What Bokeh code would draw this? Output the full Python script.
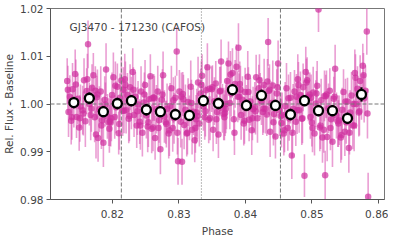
from bokeh.plotting import figure
from bokeh.models import ColumnDataSource, Span, Label, FixedTicker, NumeralTickFormatter, Range1d
from bokeh.embed import file_html
from bokeh.resources import INLINE

title_text = "GJ3470 - 171230 (CAFOS)"
x_label = "Phase"
y_label = "Rel. Flux - Baseline"
x_ticks = [0.82, 0.83, 0.84, 0.85, 0.86]
y_ticks = [0.98, 0.99, 1.00, 1.01, 1.02]

dashed_lines = [0.82135, 0.84526]
dotted_lines = [0.83338]
baseline = 1.0

raw_phase = [
    0.81321, 0.81341, 0.81361, 0.81381, 0.81401, 0.81421, 0.81441, 0.81461, 0.81481, 0.81501, 0.81521,
    0.81554, 0.81574, 0.81594, 0.81614, 0.81634, 0.81654, 0.81674, 0.81694, 0.81714, 0.81734, 0.81754,
    0.81765, 0.81785, 0.81805, 0.81825, 0.81845, 0.81865, 0.81885, 0.81905, 0.81925, 0.81945, 0.81965,
    0.81975, 0.81995, 0.82015, 0.82035, 0.82055, 0.82075, 0.82095, 0.82115, 0.82135, 0.82155, 0.82175,
    0.82186, 0.82206, 0.82226, 0.82246, 0.82266, 0.82286, 0.82306, 0.82326, 0.82346, 0.82366, 0.82386,
    0.82411, 0.82431, 0.82451, 0.82471, 0.82491, 0.82511, 0.82531, 0.82551, 0.82571, 0.82591, 0.82611,
    0.82622, 0.82642, 0.82662, 0.82682, 0.82702, 0.82722, 0.82742, 0.82762, 0.82782, 0.82802, 0.82822,
    0.82847, 0.82867, 0.82887, 0.82907, 0.82927, 0.82947, 0.82967, 0.82987, 0.83007, 0.83027, 0.83047,
    0.83058, 0.83078, 0.83098, 0.83118, 0.83138, 0.83158, 0.83178, 0.83198, 0.83218, 0.83238, 0.83258,
    0.83268, 0.83288, 0.83308, 0.83328, 0.83348, 0.83368, 0.83388, 0.83408, 0.83428, 0.83448, 0.83468,
    0.83494, 0.83514, 0.83534, 0.83554, 0.83574, 0.83594, 0.83614, 0.83634, 0.83654, 0.83674, 0.83694,
    0.83705, 0.83725, 0.83745, 0.83765, 0.83785, 0.83805, 0.83825, 0.83845, 0.83865, 0.83885, 0.83905,
    0.83915, 0.83935, 0.83955, 0.83975, 0.83995, 0.84015, 0.84035, 0.84055, 0.84075, 0.84095, 0.84115,
    0.84141, 0.84161, 0.84181, 0.84201, 0.84221, 0.84241, 0.84261, 0.84281, 0.84301, 0.84321, 0.84341,
    0.84351, 0.84371, 0.84391, 0.84411, 0.84431, 0.84451, 0.84471, 0.84491, 0.84511, 0.84531, 0.84551,
    0.84577, 0.84597, 0.84617, 0.84637, 0.84657, 0.84677, 0.84697, 0.84717, 0.84737, 0.84757, 0.84777,
    0.84787, 0.84807, 0.84827, 0.84847, 0.84867, 0.84887, 0.84907, 0.84927, 0.84947, 0.84967, 0.84987,
    0.84998, 0.85018, 0.85038, 0.85058, 0.85078, 0.85098, 0.85118, 0.85138, 0.85158, 0.85178, 0.85198,
    0.85208, 0.85228, 0.85248, 0.85268, 0.85288, 0.85308, 0.85328, 0.85348, 0.85368, 0.85388, 0.85408,
    0.85434, 0.85454, 0.85474, 0.85494, 0.85514, 0.85534, 0.85554, 0.85574, 0.85594, 0.85614, 0.85634,
    0.85644, 0.85664, 0.85684, 0.85704, 0.85724, 0.85744, 0.85764, 0.85784, 0.85804, 0.85824, 0.85844,
    0.81331, 0.81391, 0.81451, 0.81511, 0.81564, 0.81624, 0.81684, 0.81744,
    0.81775, 0.81835, 0.81895, 0.81955, 0.81985, 0.82045, 0.82105, 0.82165,
    0.82196, 0.82256, 0.82316, 0.82376, 0.82421, 0.82481, 0.82541, 0.82601,
    0.82632, 0.82692, 0.82752, 0.82812, 0.82857, 0.82917, 0.82977, 0.83037,
    0.83068, 0.83128, 0.83188, 0.83248, 0.83278, 0.83338, 0.83398, 0.83458,
    0.83504, 0.83564, 0.83624, 0.83684, 0.83715, 0.83775, 0.83835, 0.83895,
    0.83925, 0.83985, 0.84045, 0.84105, 0.84151, 0.84211, 0.84271, 0.84331,
    0.84361, 0.84421, 0.84481, 0.84541, 0.84587, 0.84647, 0.84707, 0.84767,
    0.84797, 0.84857, 0.84917, 0.84977, 0.85008, 0.85068, 0.85128, 0.85188,
    0.85218, 0.85278, 0.85338, 0.85398, 0.85444, 0.85504, 0.85564, 0.85624,
    0.85654, 0.85714, 0.85774, 0.85834,
]

raw_flux = [
    1.0048, 0.9983, 1.0015, 0.9965, 1.0031, 0.9998, 1.0063, 0.9973, 1.0011, 0.9951, 0.9995,
    0.9987, 1.0050, 0.9964, 1.0027, 1.0125, 1.0000, 0.9977, 1.0034, 1.0060, 0.9972, 0.9936,
    1.0014, 0.9929, 0.9989, 1.0026, 0.9966, 0.9919, 1.0009, 1.0072, 0.9974, 0.9962, 0.9964,
    0.9961, 1.0019, 1.0056, 0.9973, 0.9993, 1.0036, 0.9939, 1.0013, 1.0049, 0.9986, 0.9986,
    1.0052, 0.9987, 1.0019, 0.9969, 1.0035, 1.0002, 1.0067, 0.9977, 1.0015, 0.9955, 0.9999,
    0.9963, 1.0026, 0.9940, 1.0003, 1.0040, 0.9976, 0.9953, 1.0010, 1.0058, 0.9948, 0.9951,
    1.0014, 0.9929, 0.9989, 1.0026, 0.9966, 0.9905, 1.0009, 1.0060, 0.9974, 0.9962, 0.9990,
    0.9938, 0.9996, 1.0033, 0.9950, 0.9970, 1.0013, 1.0110, 0.9880, 1.0026, 0.9963, 0.9879,
    1.0021, 0.9956, 0.9988, 0.9938, 1.0004, 0.9971, 1.0036, 0.9946, 0.9984, 0.9924, 0.9968,
    0.9982, 1.0045, 0.9959, 1.0022, 1.0059, 0.9995, 0.9972, 1.0029, 1.0077, 0.9967, 0.9970,
    1.0031, 0.9946, 1.0006, 1.0043, 0.9983, 0.9936, 1.0026, 1.0089, 0.9991, 0.9979, 0.9981,
    0.9990, 1.0048, 1.0085, 1.0002, 1.0022, 1.0065, 0.9968, 1.0042, 1.0078, 1.0015, 1.0015,
    1.0042, 0.9977, 1.0009, 0.9959, 1.0025, 0.9992, 1.0057, 0.9967, 1.0005, 0.9945, 0.9989,
    0.9993, 1.0056, 0.9970, 1.0033, 1.0019, 1.0006, 0.9983, 1.0040, 0.9990, 0.9978, 1.0130,
    1.0027, 0.9942, 1.0002, 1.0039, 0.9979, 0.9932, 1.0022, 1.0085, 0.9987, 0.9975, 0.9977,
    0.9938, 0.9996, 1.0033, 0.9950, 0.9970, 1.0013, 0.9892, 0.9990, 1.0026, 0.9963, 0.9987,
    1.0052, 0.9987, 1.0019, 0.9969, 1.0035, 0.9850, 1.0067, 1.0050, 1.0015, 1.0020, 1.0013,
    0.9961, 1.0024, 0.9938, 1.0001, 1.0038, 1.0198, 0.9951, 1.0008, 0.9930, 0.9946, 0.9851,
    1.0016, 0.9931, 0.9991, 1.0028, 0.9968, 0.9921, 1.0011, 1.0074, 0.9976, 0.9964, 0.9966,
    0.9930, 0.9988, 1.0025, 0.9942, 0.9962, 1.0005, 0.9908, 0.9982, 1.0018, 0.9955, 0.9955,
    1.0065, 1.0000, 1.0032, 0.9982, 1.0048, 1.0015, 1.0080, 1.0012, 1.0028, 1.0152, 0.9806,
    1.0030, 0.9972, 1.0041, 0.9970, 0.9980, 1.0052, 0.9990, 1.0028,
    1.0020, 0.9955, 0.9999, 0.9948, 0.9970, 1.0038, 0.9958, 1.0030,
    1.0040, 0.9975, 1.0030, 0.9985, 0.9955, 1.0020, 0.9962, 1.0012,
    1.0012, 0.9950, 1.0020, 0.9958, 0.9945, 1.0008, 0.9940, 1.0015,
    1.0010, 0.9940, 1.0002, 0.9950, 0.9975, 1.0040, 0.9985, 1.0032,
    1.0035, 0.9968, 1.0028, 0.9972, 1.0000, 1.0062, 0.9940, 1.0118,
    1.0030, 0.9965, 1.0025, 0.9970, 0.9985, 1.0050, 0.9990, 1.0047,
    1.0030, 0.9962, 1.0035, 0.9960, 0.9945, 1.0012, 0.9940, 1.0015,
    1.0040, 0.9970, 1.0045, 0.9973, 0.9950, 1.0022, 0.9955, 1.0017,
    1.0020, 0.9950, 1.0015, 0.9959, 0.9935, 1.0005, 0.9940, 1.0000,
    1.0055, 0.9985, 1.0060, 0.9980,
]

raw_err = [
    0.0048, 0.0052, 0.0045, 0.0050, 0.0055, 0.0047, 0.0051, 0.0044, 0.0053, 0.0049, 0.0046,
    0.0051, 0.0046, 0.0054, 0.0048, 0.0050, 0.0045, 0.0053, 0.0049, 0.0047, 0.0052, 0.0050,
    0.0045, 0.0050, 0.0048, 0.0053, 0.0046, 0.0051, 0.0049, 0.0055, 0.0047, 0.0050, 0.0052,
    0.0050, 0.0047, 0.0052, 0.0046, 0.0054, 0.0049, 0.0045, 0.0051, 0.0048, 0.0053, 0.0047,
    0.0053, 0.0049, 0.0046, 0.0051, 0.0048, 0.0055, 0.0050, 0.0046, 0.0052, 0.0047, 0.0049,
    0.0047, 0.0053, 0.0050, 0.0045, 0.0052, 0.0048, 0.0054, 0.0049, 0.0046, 0.0051, 0.0050,
    0.0049, 0.0046, 0.0051, 0.0054, 0.0047, 0.0052, 0.0048, 0.0050, 0.0055, 0.0045, 0.0053,
    0.0052, 0.0048, 0.0047, 0.0050, 0.0053, 0.0046, 0.0051, 0.0049, 0.0045, 0.0054, 0.0048,
    0.0046, 0.0051, 0.0053, 0.0048, 0.0050, 0.0047, 0.0055, 0.0052, 0.0049, 0.0046, 0.0051,
    0.0050, 0.0054, 0.0048, 0.0052, 0.0045, 0.0051, 0.0047, 0.0053, 0.0050, 0.0049, 0.0046,
    0.0048, 0.0045, 0.0050, 0.0047, 0.0053, 0.0049, 0.0052, 0.0046, 0.0051, 0.0055, 0.0048,
    0.0051, 0.0049, 0.0046, 0.0055, 0.0048, 0.0052, 0.0045, 0.0050, 0.0047, 0.0053, 0.0049,
    0.0047, 0.0052, 0.0049, 0.0046, 0.0051, 0.0048, 0.0054, 0.0045, 0.0050, 0.0052, 0.0047,
    0.0053, 0.0047, 0.0051, 0.0049, 0.0046, 0.0050, 0.0048, 0.0055, 0.0052, 0.0045, 0.0050,
    0.0049, 0.0053, 0.0045, 0.0052, 0.0050, 0.0046, 0.0051, 0.0048, 0.0054, 0.0049, 0.0047,
    0.0046, 0.0050, 0.0053, 0.0048, 0.0047, 0.0054, 0.0049, 0.0052, 0.0045, 0.0051, 0.0050,
    0.0052, 0.0047, 0.0049, 0.0055, 0.0050, 0.0045, 0.0053, 0.0048, 0.0051, 0.0046, 0.0049,
    0.0050, 0.0054, 0.0046, 0.0049, 0.0052, 0.0047, 0.0050, 0.0045, 0.0053, 0.0048, 0.0051,
    0.0045, 0.0051, 0.0052, 0.0047, 0.0049, 0.0053, 0.0046, 0.0050, 0.0048, 0.0054, 0.0052,
    0.0053, 0.0046, 0.0048, 0.0051, 0.0045, 0.0050, 0.0052, 0.0047, 0.0049, 0.0050, 0.0054,
    0.0049, 0.0052, 0.0047, 0.0050, 0.0054, 0.0048, 0.0046, 0.0051, 0.0053, 0.0049, 0.0050,
    0.0050, 0.0047, 0.0052, 0.0049, 0.0046, 0.0053, 0.0048, 0.0051,
    0.0052, 0.0049, 0.0046, 0.0050, 0.0048, 0.0051, 0.0054, 0.0047,
    0.0049, 0.0053, 0.0047, 0.0050, 0.0051, 0.0046, 0.0052, 0.0048,
    0.0047, 0.0050, 0.0053, 0.0049, 0.0054, 0.0048, 0.0046, 0.0051,
    0.0051, 0.0046, 0.0049, 0.0052, 0.0048, 0.0050, 0.0053, 0.0047,
    0.0046, 0.0052, 0.0050, 0.0048, 0.0053, 0.0049, 0.0047, 0.0051,
    0.0050, 0.0048, 0.0052, 0.0046, 0.0049, 0.0054, 0.0050, 0.0047,
    0.0053, 0.0049, 0.0047, 0.0051, 0.0046, 0.0050, 0.0052, 0.0048,
    0.0048, 0.0052, 0.0050, 0.0046, 0.0051, 0.0047, 0.0049, 0.0053,
    0.0050, 0.0047, 0.0053, 0.0049, 0.0052, 0.0048, 0.0046, 0.0050,
    0.0049, 0.0051, 0.0047, 0.0052,
]

bin_phase = [0.81421, 0.81654, 0.81865, 0.82075, 0.82286, 0.82511, 0.82722, 0.82947,
             0.83158, 0.83368, 0.83594, 0.83805, 0.84015, 0.84241, 0.84451, 0.84677,
             0.84887, 0.85098, 0.85308, 0.85534, 0.85744]
bin_flux = [1.0003, 1.0012, 0.9984, 1.0001, 1.0007, 0.9988, 0.9984, 0.9978,
            0.9976, 1.0007, 1.0001, 1.0030, 0.9997, 1.0018, 0.9997, 0.9978,
            1.0007, 0.9986, 0.9986, 0.9970, 1.0020]
bin_err = [0.0012, 0.0012, 0.0012, 0.0012, 0.0012, 0.0012, 0.0012, 0.0012,
           0.0012, 0.0012, 0.0012, 0.0012, 0.0012, 0.0012, 0.0012, 0.0012,
           0.0012, 0.0012, 0.0012, 0.0012, 0.0015]

FONT = "DejaVu Sans"
TXT = "#444444"

raw_src = ColumnDataSource(data=dict(
    x=raw_phase, y=raw_flux,
    lo=[f - e for f, e in zip(raw_flux, raw_err)],
    hi=[f + e for f, e in zip(raw_flux, raw_err)],
))
bin_src = ColumnDataSource(data=dict(
    x=bin_phase, y=bin_flux,
    lo=[f - e for f, e in zip(bin_flux, bin_err)],
    hi=[f + e for f, e in zip(bin_flux, bin_err)],
))

p = figure(frame_width=334, frame_height=191, output_backend="svg", toolbar_location=None,
           x_range=Range1d(0.8107, 0.8609), y_range=Range1d(0.98, 1.02))
p.min_border_left = 0
p.min_border_right = 4
p.min_border_top = 8
p.min_border_bottom = 0
p.grid.visible = False
p.outline_line_color = "#777777"
p.outline_line_width = 1
p.background_fill_color = "white"
p.border_fill_color = "white"

for ax in (p.xaxis[0], p.yaxis[0]):
    ax.axis_line_color = "#555555"
    ax.major_tick_line_color = "#555555"
    ax.major_tick_in = 0
    ax.major_tick_out = 4
    ax.minor_tick_line_color = None
    ax.major_label_text_font = FONT
    ax.major_label_text_font_size = "10.5px"
    ax.major_label_text_color = TXT
    ax.axis_label_text_font = FONT
    ax.axis_label_text_font_size = "10.5px"
    ax.axis_label_text_font_style = "normal"
    ax.axis_label_text_color = TXT

p.yaxis[0].major_label_standoff = 3
p.yaxis[0].axis_label_standoff = 2
p.xaxis[0].major_label_standoff = 6
p.xaxis[0].axis_label_standoff = 4

p.xaxis.ticker = FixedTicker(ticks=x_ticks)
p.yaxis.ticker = FixedTicker(ticks=y_ticks)
p.xaxis.formatter = NumeralTickFormatter(format="0.00")
p.yaxis.formatter = NumeralTickFormatter(format="0.00")
p.xaxis.axis_label = x_label
p.yaxis.axis_label = y_label

pink = "#cf2f9e"
p.segment(x0="x", y0="lo", x1="x", y1="hi", source=raw_src,
          line_color="#d94fae", line_alpha=0.55, line_width=1.6)
p.scatter(x="x", y="y", source=raw_src, size=6.5, fill_color=pink, fill_alpha=0.7,
          line_color=None)

p.add_layout(Span(location=baseline, dimension="width", line_color="#777777",
                  line_width=1, line_dash="4 2"))
for loc in dashed_lines:
    p.add_layout(Span(location=loc, dimension="height", line_color="#777777",
                      line_width=1, line_dash="4 2"))
for loc in dotted_lines:
    p.add_layout(Span(location=loc, dimension="height", line_color="#777777",
                      line_width=1, line_dash="1 2"))

p.segment(x0="x", y0="lo", x1="x", y1="hi", source=bin_src,
          line_color="black", line_width=2.2, level="overlay")
p.scatter(x="x", y="y", source=bin_src, size=9, fill_color="white",
          line_color="black", line_width=2.3, level="overlay")

p.add_layout(Label(x=19, y=173, x_units="screen", y_units="screen", text=title_text,
                   text_font=FONT, text_font_size="10.5px", text_color=TXT,
                   text_baseline="middle", text_align="left"))

open("out.html", "w").write(file_html(p, INLINE))
